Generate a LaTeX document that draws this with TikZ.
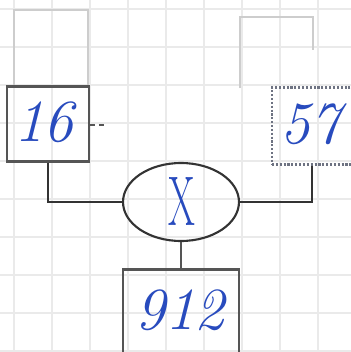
\documentclass[tikz,border=0pt]{standalone}
\usepackage{tikz}
\usetikzlibrary{shapes.geometric}
\definecolor{inkblue}{RGB}{40,75,190}
\definecolor{pencil}{RGB}{85,85,85}
\definecolor{faded}{RGB}{205,205,205}
\definecolor{gridgray}{RGB}{234,234,234}
\definecolor{dotgray}{RGB}{110,115,130}

\begin{document}
\begin{tikzpicture}[x=0.02cm, y=-0.02cm,
  numbox/.style={draw=pencil, line width=1.2pt, inner sep=0pt},
  digits/.style={text=inkblue, font=\fontsize{34}{34}\selectfont\itshape}]
  \useasboundingbox (0,0) rectangle (351,352);
  \fill[white] (0,0) rectangle (351,352);
  % grid paper
  \foreach \gx in {14,52,90,128,166,204,242,280,318}
    \draw[gridgray, line width=0.8pt] (\gx,0) -- (\gx,352);
  \foreach \gy in {9,47,85,123,161,199,237,275,313,351}
    \draw[gridgray, line width=0.8pt] (0,\gy) -- (351,\gy);
  % rubbed out pencil boxes
  \draw[faded, line width=0.8pt] (14,87) -- (14,10) -- (88,10) -- (88,87);
  \draw[faded, line width=0.8pt] (240,88) -- (240,17) -- (313,17) -- (313,50);

  \node[numbox, minimum width=1.64cm, minimum height=1.5cm] (b16) at (48,124) {};
  \node[digits] (t16) at (44,122) {16};
  \node[numbox, draw=dotgray, densely dotted, minimum width=1.6cm, minimum height=1.54cm] (b57) at (312,126) {};
  \node[digits] (t57) at (310,124) {57};
  \node[ellipse, draw=black!80, line width=1.2pt, minimum width=2.32cm, minimum height=1.56cm, inner sep=0pt] (mult) at (181,202) {};
  \node[text=inkblue, font=\fontsize{40}{40}\selectfont] (tx) at (182,201) {\scalebox{0.55}[1]{X}};
  \node[numbox, minimum width=2.32cm, minimum height=1.7cm] (b912) at (181,312) {};
  \node[digits] (t912) at (180,310) {912};

  \coordinate (stub) at (104,125);
  \draw[pencil, densely dashed, line width=0.8pt] (b16.east |- stub) -- (stub);
  \draw[black!80, line width=1.1pt] (b16.south) |- (mult.west);
  \draw[black!80, line width=1.1pt] (b57.south) |- (mult.east);
  \draw[pencil, line width=1.1pt] (mult.south) -- (b912.north);
\end{tikzpicture}
\end{document}
